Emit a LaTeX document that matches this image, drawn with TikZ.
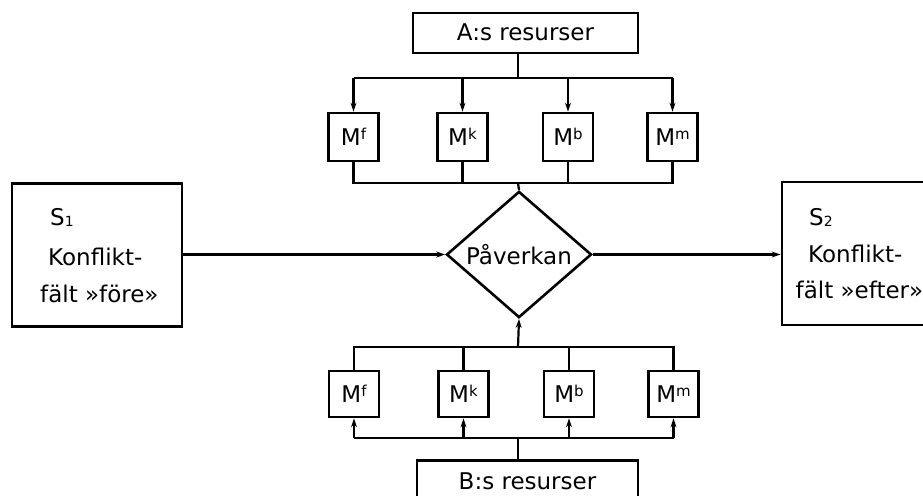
\documentclass[tikz,border=0pt]{standalone}
\usepackage{fontspec}
\setmainfont{DejaVu Sans}
\usetikzlibrary{shapes.geometric,arrows.meta}

\tikzset{
  lbl/.style={font=\fontsize{23}{27}\selectfont, inner sep=0pt},
  resbox/.style={draw, line width=2.8pt, lbl, text height=16pt, text depth=0pt},
  mbox/.style={draw, line width=2.8pt, lbl, text height=16pt, text depth=0pt,
               minimum width=50pt, minimum height=48pt},
  fieldbox/.style={draw, line width=2.8pt, minimum width=170pt, minimum height=143pt},
  wire/.style={line width=2.2pt},
  arr/.style={wire, -{Stealth[length=9pt, width=6pt]}},
  fieldtxt/.style={lbl, anchor=base west}
}
\newcommand{\supx}[1]{\raisebox{6pt}{\fontsize{15}{15}\selectfont #1}}
\newcommand{\subx}[1]{\raisebox{-1pt}{\fontsize{14}{14}\selectfont #1}}

\begin{document}
\begin{tikzpicture}[x=1pt, y=-1pt]
\useasboundingbox (0,0) rectangle (923,495);
\clip (0,0) rectangle (923,495);

% resources of party A
\node[resbox, minimum width=225pt, minimum height=40pt] (A) at (525.5,33) {A:s resurser};

% top row of means
\node[mbox] (tf) at (353.5,137) {M\supx{f}};
\node[mbox] (tk) at (462.5,137) {M\supx{k}};
\node[mbox] (tb) at (568,137)   {M\supx{b}};
\node[mbox] (tm) at (672.5,137) {M\supx{m}};

% influence diamond
\node[shape=diamond, draw, line width=2.6pt, inner sep=0pt, lbl,
      minimum width=145pt, minimum height=113pt] (P) at (519,254.5) {Påverkan};

% conflict fields before and after
\node[fieldbox] (S1) at (97,255) {};
\node[fieldtxt] (s1a) at (50,225) {S\subx{1}};
\node[fieldtxt] (s1b) at (48,265) {Konflikt-};
\node[fieldtxt] (s1c) at (40,302) {fält »före»};

\node[fieldbox] (S2) at (867,253.5) {};
\node[fieldtxt] (s2a) at (809,225) {S\subx{2}};
\node[fieldtxt] (s2b) at (808,262) {Konflikt-};
\node[fieldtxt] (s2c) at (795.5,298) {fält »efter»};

% bottom row of means
\node[mbox, minimum height=46pt] (bf) at (354,394)   {M\supx{f}};
\node[mbox, minimum height=46pt] (bk) at (463.5,394) {M\supx{k}};
\node[mbox, minimum height=46pt] (bb) at (569,394)   {M\supx{b}};
\node[mbox, minimum height=46pt] (bm) at (673.5,394) {M\supx{m}};

% resources of party B
\node[resbox, anchor=north, minimum width=221pt, inner ysep=13pt] (B) at (527.5,459) {B:s resurser};

% bus coordinates
\coordinate (ta) at (518,78);
\coordinate (tc) at (518,183);
\coordinate (bc) at (518,347);
\coordinate (ba) at (518,438);

% A distributes to the top means
\draw[wire] (A.south -| ta) -- (ta);
\draw[wire] (tf.north |- ta) -- (tm.north |- ta);
\foreach \m in {tf,tk,tb,tm} \draw[arr] (\m.north |- ta) -- (\m.north);

% top means gathered into the diamond
\draw[wire] (tf.south) -- (tf.south |- tc) -- (tm.south |- tc) -- (tm.south);
\foreach \m in {tk,tb} \draw[wire] (\m.south) -- (\m.south |- tc);
\draw[wire] (tc) -- (P.north);

% before -> influence -> after
\draw[arr] (S1.east |- P.west) -- (P.west);
\draw[arr] (P.east) -- (S2.west |- P.east);

% bottom means gathered into the diamond
\draw[arr] (bc) -- (P.south);
\draw[wire] (bf.north) -- (bf.north |- bc) -- (bm.north |- bc) -- (bm.north);
\foreach \m in {bk,bb} \draw[wire] (\m.north) -- (\m.north |- bc);

% B distributes to the bottom means
\draw[wire] (B.north -| ba) -- (ba);
\draw[wire] (bf.south |- ba) -- (bm.south |- ba);
\foreach \m in {bf,bk,bb,bm} \draw[arr] (\m.south |- ba) -- (\m.south);
\end{tikzpicture}
\end{document}
